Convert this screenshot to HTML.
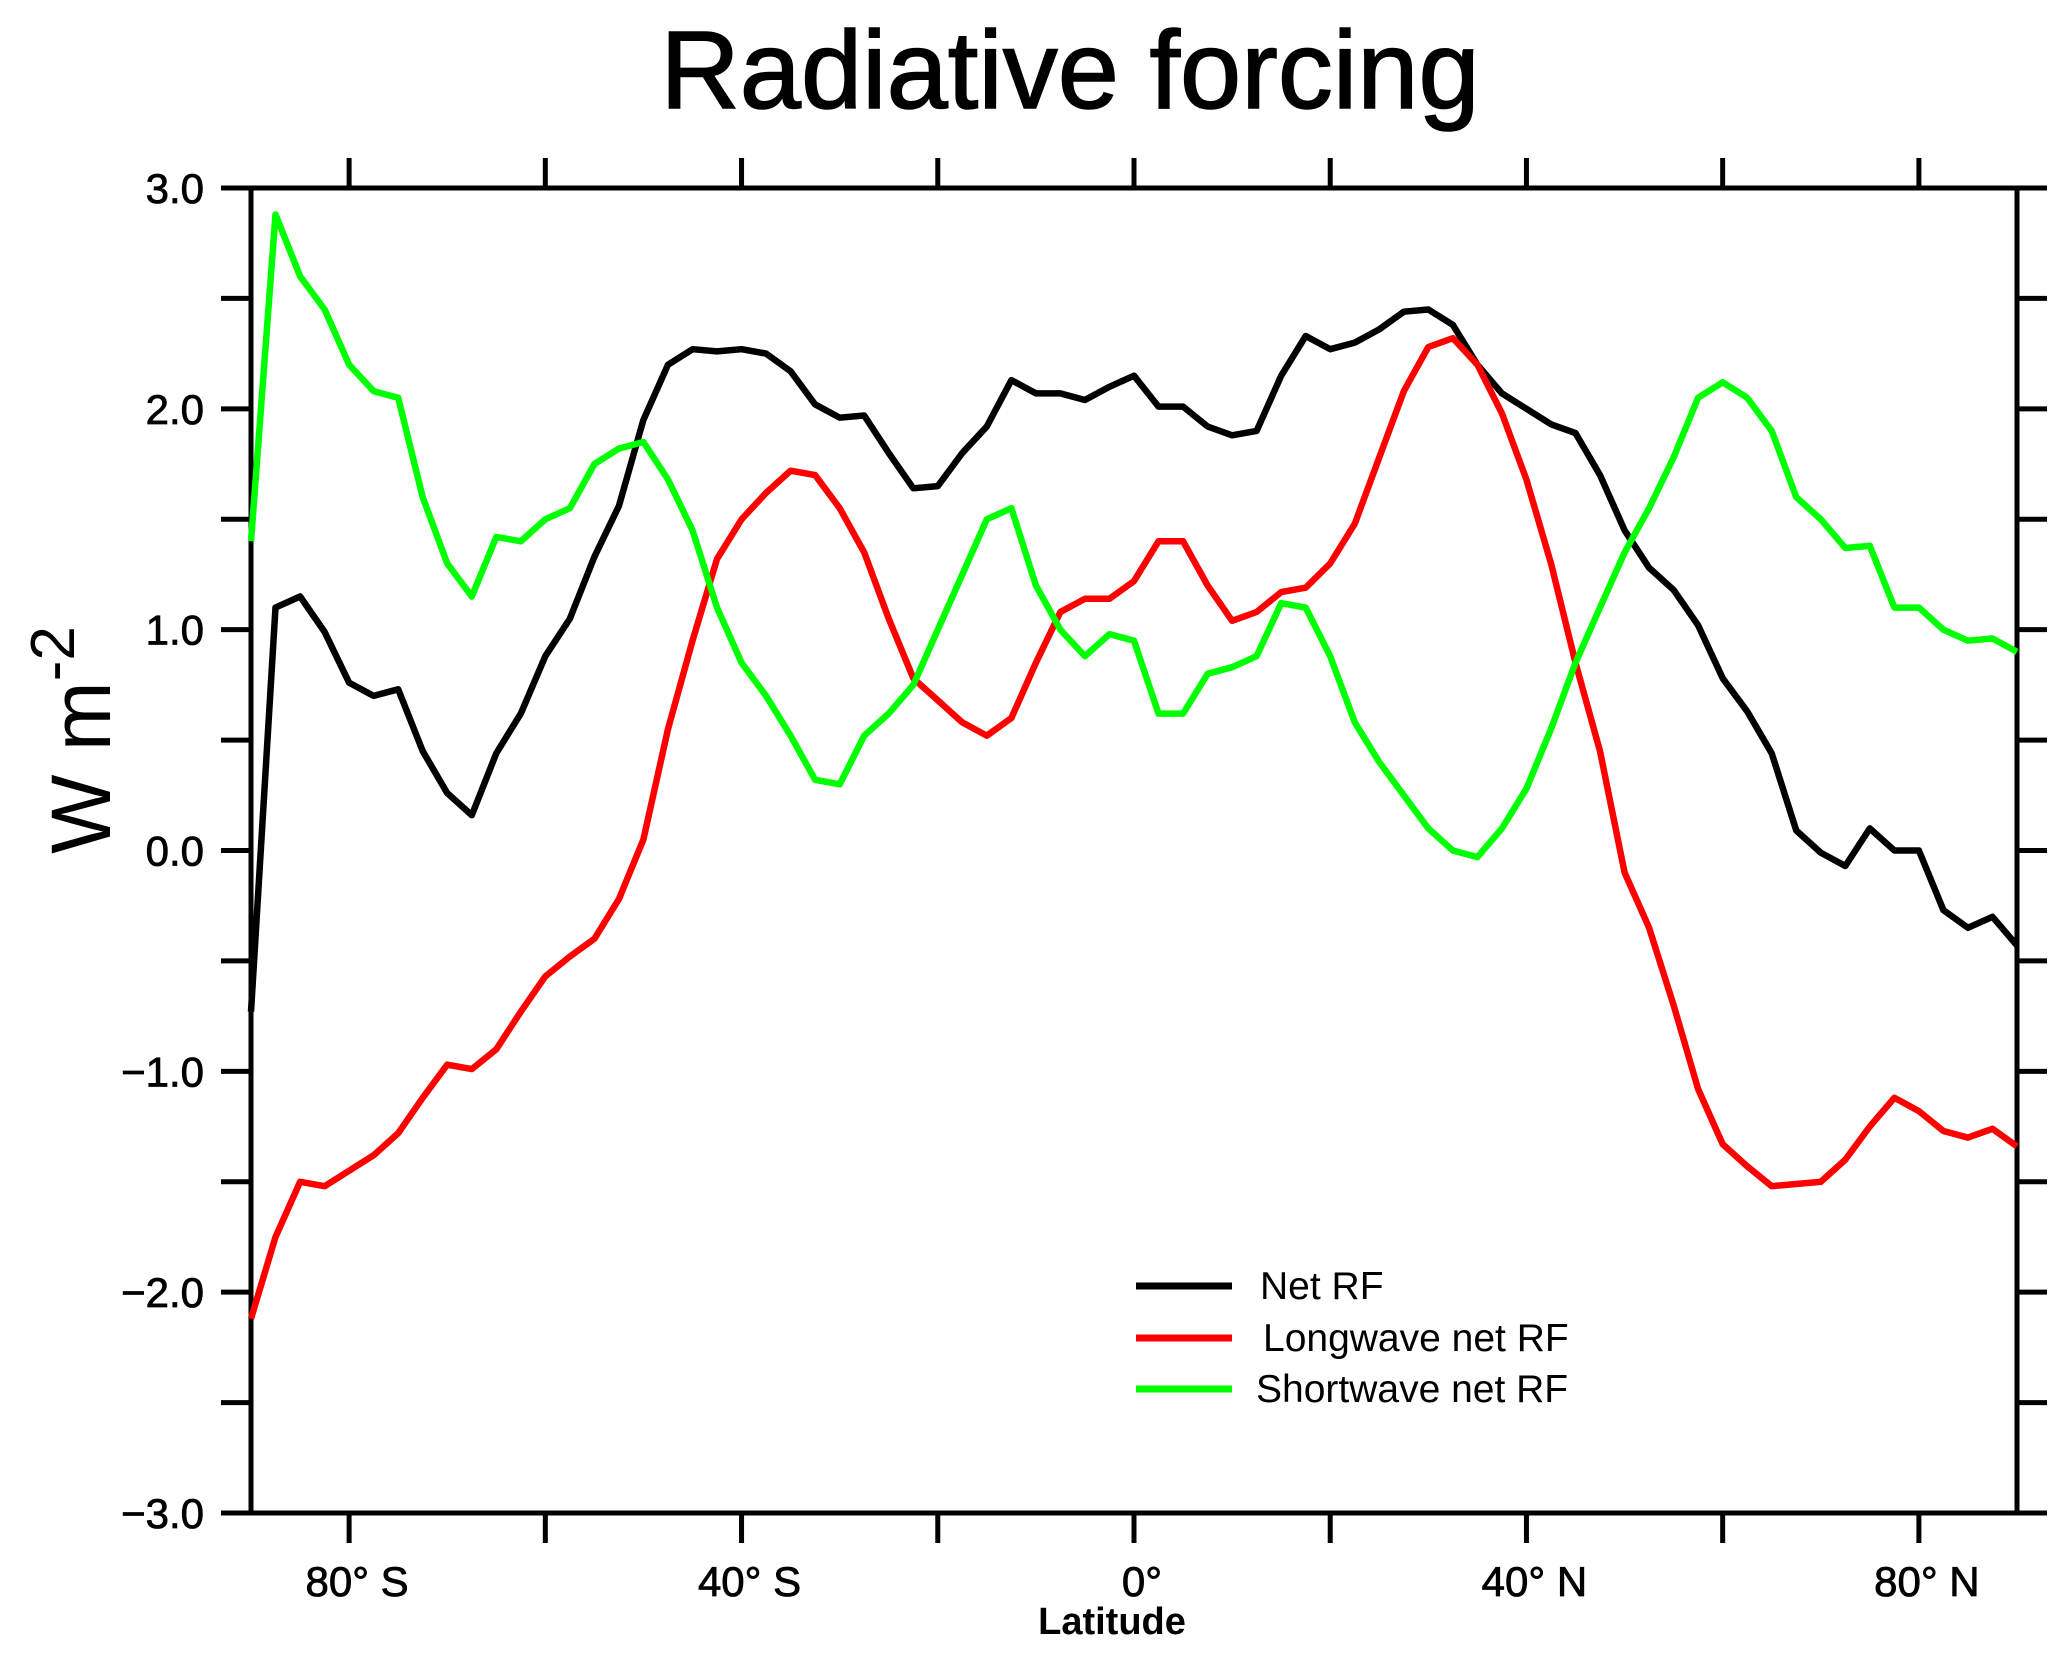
<!DOCTYPE html>
<html><head><meta charset="utf-8"><style>
html,body{margin:0;padding:0;background:#fff;}
svg{display:block;font-family:"Liberation Sans",sans-serif;}
</style></head><body>
<svg id="chart" width="2067" height="1653" viewBox="0 0 2067 1653" xmlns="http://www.w3.org/2000/svg">
<rect width="2067" height="1653" fill="#fff"/>
<text x="1070" y="108" font-size="110" text-anchor="middle" fill="#000" stroke="#000" stroke-width="1.5">Radiative forcing</text>
<g id="axes"></g>
<g id="series"></g>
<text transform="translate(110,740) rotate(-90)" font-size="84" text-anchor="middle" fill="#000">W m<tspan dy="-36" font-size="62">-2</tspan></text>
<text x="1112" y="1634" font-size="38" font-weight="bold" text-anchor="middle" fill="#000">Latitude</text>
<g>
  <line x1="1136" y1="1286" x2="1232" y2="1286" stroke="#000" stroke-width="7"/>
  <text x="1260" y="1299" font-size="39">Net RF</text>
  <line x1="1136" y1="1338" x2="1232" y2="1338" stroke="#f00" stroke-width="7"/>
  <text x="1263" y="1351" font-size="39">Longwave net RF</text>
  <line x1="1136" y1="1389" x2="1232" y2="1389" stroke="#0f0" stroke-width="7"/>
  <text x="1256" y="1402" font-size="39">Shortwave net RF</text>
</g>
</svg>
<script>
const lats = [-90,-87.5,-85,-82.5,-80,-77.5,-75,-72.5,-70,-67.5,-65,-62.5,-60,-57.5,-55,-52.5,-50,-47.5,-45,-42.5,-40,-37.5,-35,-32.5,-30,-27.5,-25,-22.5,-20,-17.5,-15,-12.5,-10,-7.5,-5,-2.5,0,2.5,5,7.5,10,12.5,15,17.5,20,22.5,25,27.5,30,32.5,35,37.5,40,42.5,45,47.5,50,52.5,55,57.5,60,62.5,65,67.5,70,72.5,75,77.5,80,82.5,85,87.5,90];
const netRF = [-0.73,1.10,1.15,0.99,0.76,0.70,0.73,0.45,0.26,0.16,0.44,0.62,0.88,1.05,1.33,1.56,1.95,2.20,2.27,2.26,2.27,2.25,2.17,2.02,1.96,1.97,1.80,1.64,1.65,1.80,1.92,2.13,2.07,2.07,2.04,2.10,2.15,2.01,2.01,1.92,1.88,1.90,2.15,2.33,2.27,2.30,2.36,2.44,2.45,2.38,2.20,2.07,2.00,1.93,1.89,1.70,1.45,1.28,1.18,1.02,0.78,0.63,0.44,0.09,-0.01,-0.07,0.10,0.00,0.00,-0.27,-0.35,-0.30,-0.43];
const longwaveRF = [-2.12,-1.75,-1.50,-1.52,-1.45,-1.38,-1.28,-1.12,-0.97,-0.99,-0.90,-0.73,-0.57,-0.48,-0.40,-0.22,0.05,0.55,0.95,1.32,1.50,1.62,1.72,1.70,1.55,1.35,1.05,0.78,0.68,0.58,0.52,0.60,0.85,1.08,1.14,1.14,1.22,1.40,1.40,1.20,1.04,1.08,1.17,1.19,1.30,1.48,1.78,2.08,2.28,2.32,2.20,1.98,1.68,1.30,0.85,0.45,-0.10,-0.35,-0.70,-1.08,-1.33,-1.43,-1.52,-1.51,-1.50,-1.40,-1.25,-1.12,-1.18,-1.27,-1.30,-1.26,-1.34];
const shortwaveRF = [1.40,2.88,2.60,2.45,2.20,2.08,2.05,1.60,1.30,1.15,1.42,1.40,1.50,1.55,1.75,1.82,1.85,1.68,1.45,1.10,0.85,0.70,0.52,0.32,0.30,0.52,0.62,0.75,1.00,1.25,1.50,1.55,1.20,1.00,0.88,0.98,0.95,0.62,0.62,0.80,0.83,0.88,1.12,1.10,0.88,0.58,0.40,0.25,0.10,0.00,-0.03,0.10,0.28,0.55,0.85,1.10,1.35,1.55,1.78,2.05,2.12,2.05,1.90,1.60,1.50,1.37,1.38,1.10,1.10,1.00,0.95,0.96,0.90];
const yTicks = [-3,-2.5,-2,-1.5,-1,-0.5,0,0.5,1,1.5,2,2.5,3];
const yLabels = ["\u22123.0","","\u22122.0","","\u22121.0","","0.0","","1.0","","2.0","","3.0"];
const xTicks = [-80,-60,-40,-20,0,20,40,60,80];
const xLabels = ["80° S","","40° S","","0°","","40° N","","80° N"];

const L=251,R=2017,T=188,B=1513;
const xs = v => L + (v+90)/180*(R-L);
const ys = v => B - (v+3)/6*(B-T);
const NS="http://www.w3.org/2000/svg";
const axes=document.getElementById('axes');
function mk(tag,attrs,parent){const e=document.createElementNS(NS,tag);for(const k in attrs)e.setAttribute(k,attrs[k]);parent.appendChild(e);return e;}
const frame=mk('rect',{x:L,y:T,width:R-L,height:B-T,fill:'none',stroke:'#000','stroke-width':5},axes);


yTicks.forEach((t,i)=>{
  const y=ys(t);
  const a=mk('line',{x1:L-30,y1:y,x2:L,y2:y,stroke:'#000','stroke-width':5},axes);
  
  
  const b=mk('line',{x1:R,y1:y,x2:R+30,y2:y,stroke:'#000','stroke-width':5},axes);
  
  
  if(yLabels[i]){
    const tx=mk('text',{x:204,y:y+15,'font-size':42,'text-anchor':'end',fill:'#000',stroke:'#000','stroke-width':0.8},axes);
    tx.textContent=yLabels[i];
    
    
  }
});
xTicks.forEach((t,i)=>{
  const x=xs(t);
  const a=mk('line',{x1:x,y1:T-30,x2:x,y2:T,stroke:'#000','stroke-width':5},axes);
  
  
  const b=mk('line',{x1:x,y1:B,x2:x,y2:B+30,stroke:'#000','stroke-width':5},axes);
  
  
  if(xLabels[i]){
    const tx=mk('text',{x:x+8,y:1596,'font-size':42,'text-anchor':'middle',fill:'#000',stroke:'#000','stroke-width':0.8},axes);
    tx.textContent=xLabels[i];
    
    
  }
});
const ser=document.getElementById('series');
[[netRF,'#000','net-rf-line'],[longwaveRF,'#f00','longwave-net-rf-line'],[shortwaveRF,'#0f0','shortwave-net-rf-line']].forEach(([vals,col,name])=>{
  const d=vals.map((v,i)=>(i?'L':'M')+xs(lats[i]).toFixed(1)+','+ys(v).toFixed(1)).join(' ');
  const p=mk('path',{d:d,fill:'none',stroke:col,'stroke-width':6.5,'stroke-linejoin':'round'},ser);
  
  
});
</script>
</body></html>
